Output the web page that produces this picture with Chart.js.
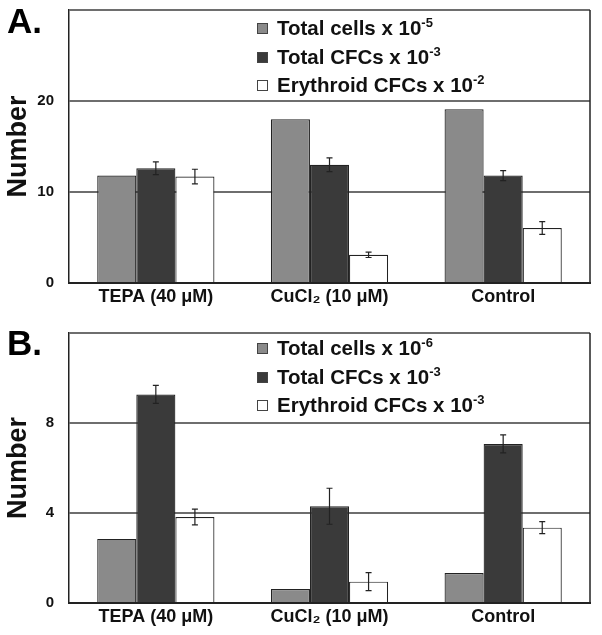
<!DOCTYPE html>
<html>
<head>
<meta charset="utf-8">
<script src="https://cdn.jsdelivr.net/npm/chart.js@4.4.1/dist/chart.umd.min.js"></script>
<style>
  body { margin: 0; background: #fff; width: 602px; height: 635px; position: relative; overflow: hidden; font-family: "Liberation Sans", Arial, sans-serif; }
  .panel { position: absolute; left: 0; }
  .legend { position: absolute; left: 257px; font-weight: bold; font-size: 20.5px; color: #111; }
  .legend div { white-space: nowrap; height: 28.5px; line-height: 28.5px; }
  .legend .sw { display: inline-block; width: 9px; height: 9px; border: 1px solid #444; margin-right: 9px; vertical-align: 1px; }
  .legend sup { font-size: 13px; line-height: 0; vertical-align: 0; position: relative; top: -8px; }
</style>
</head>
<body>
<canvas id="chartA" class="panel" style="top:0" width="602" height="317"></canvas>
<canvas id="chartB" class="panel" style="top:317px" width="602" height="318"></canvas>
<div id="legendA" class="legend" style="top:14px"></div>
<div id="legendB" class="legend" style="top:334px"></div>
<script>
const categories = ['TEPA (40 μM)', 'CuCl₂ (10 μM)', 'Control'];
const seriesNames = ['Total cells x 10', 'Total CFCs x 10', 'Erythroid CFCs x 10'];
const seriesColors = ['#8a8a8a', '#3a3a3a', '#ffffff'];

// panel A
const exponentsA = ['-5', '-3', '-2'];
const totalCellsA = [11.8, 18.0, 19.1];
const totalCfcsA = [12.6, 13.0, 11.8];
const totalCfcsErrA = [0.7, 0.75, 0.55];
const erythroidA = [11.7, 3.1, 6.05];
const erythroidErrA = [0.8, 0.3, 0.7];
const yTicksA = [0, 10, 20];
const yMaxA = 30;

// panel B
const exponentsB = ['-6', '-3', '-3'];
const totalCellsB = [2.85, 0.62, 1.33];
const totalCfcsB = [9.27, 4.3, 7.07];
const totalCfcsErrB = [0.4, 0.8, 0.4];
const erythroidB = [3.82, 0.95, 3.35];
const erythroidErrB = [0.35, 0.4, 0.27];
const yTicksB = [0, 4, 8];
const yMaxB = 12;

const errorBars = {
    id: 'errorBars',
    afterDatasetsDraw(chart) {
        const ctx = chart.ctx;
        const y = chart.scales.y;
        chart.data.datasets.forEach((ds, di) => {
            if (!ds.errors) return;
            chart.getDatasetMeta(di).data.forEach((bar, i) => {
                const top = y.getPixelForValue(ds.data[i] + ds.errors[i]);
                const bot = y.getPixelForValue(ds.data[i] - ds.errors[i]);
                ctx.save();
                ctx.strokeStyle = '#222';
                ctx.lineWidth = 1.2;
                ctx.beginPath();
                ctx.moveTo(bar.x, top); ctx.lineTo(bar.x, bot);
                ctx.moveTo(bar.x - 3, top); ctx.lineTo(bar.x + 3, top);
                ctx.moveTo(bar.x - 3, bot); ctx.lineTo(bar.x + 3, bot);
                ctx.stroke();
                ctx.restore();
            });
        });
    }
};

const frameAndLabel = {
    id: 'frameAndLabel',
    afterDraw(chart, args, opts) {
        const ctx = chart.ctx;
        const a = chart.chartArea;
        ctx.save();
        ctx.strokeStyle = '#222';
        ctx.lineWidth = 1.5;
        ctx.beginPath();
        ctx.moveTo(a.right, a.top);
        ctx.lineTo(a.right, a.bottom);
        ctx.stroke();
        ctx.fillStyle = '#000';
        ctx.font = 'bold 35px "Liberation Sans", Arial, sans-serif';
        ctx.textBaseline = 'alphabetic';
        ctx.fillText(opts.text, 7, opts.baseline);
        ctx.restore();
    }
};

function makeChart(id, label, labelBaseline, padTop, xHeight, series, errs, ticks, yMax, stepSize) {
    const datasets = series.map((data, i) => ({
        label: seriesNames[i],
        data: data,
        errors: errs[i],
        backgroundColor: seriesColors[i],
        borderColor: '#222',
        borderWidth: 1.2,
        barPercentage: 1.0,
        categoryPercentage: 0.675
    }));
    return new Chart(document.getElementById(id), {
        type: 'bar',
        data: { labels: categories, datasets: datasets },
        options: {
            responsive: false,
            animation: false,
            layout: { padding: { top: padTop, right: 12, left: 0, bottom: 0 } },
            plugins: {
                legend: { display: false },
                tooltip: { enabled: false },
                frameAndLabel: { text: label, baseline: labelBaseline }
            },
            scales: {
                x: {
                    grid: { display: false, drawTicks: false },
                    border: { color: '#222', width: 2 },
                    ticks: { color: '#111', padding: 3, font: { family: '"Liberation Sans", Arial', size: 18, weight: 'bold' } },
                    afterFit: (s) => { s.height = xHeight; }
                },
                y: {
                    min: 0,
                    max: yMax,
                    grid: { color: '#6e6e6e', lineWidth: 2, drawTicks: true, tickLength: 15, tickColor: 'rgba(0,0,0,0)' },
                    border: { color: '#222', width: 1.5 },
                    ticks: {
                        stepSize: stepSize,
                        padding: 0,
                        color: '#111',
                        font: { family: '"Liberation Sans", Arial', size: 15, weight: 'bold' },
                        callback: (v) => ticks.includes(v) ? String(v) : ''
                    },
                    title: {
                        display: true,
                        text: 'Number',
                        color: '#111',
                        padding: { top: 2, bottom: 0 },
                        font: { family: '"Liberation Sans", Arial', size: 27, weight: 'bold' }
                    },
                    afterFit: (s) => { s.width = 69; }
                }
            }
        },
        plugins: [errorBars, frameAndLabel]
    });
}

function buildLegend(id, exps) {
    const el = document.getElementById(id);
    el.innerHTML = seriesNames.map((n, i) =>
        '<div><span class="sw" style="background:' + seriesColors[i] + '"></span>' + n + '<sup>' + exps[i] + '</sup></div>'
    ).join('');
}

makeChart('chartA', 'A.', 33, 10, 34,
    [totalCellsA, totalCfcsA, erythroidA], [null, totalCfcsErrA, erythroidErrA], yTicksA, yMaxA, 10);
makeChart('chartB', 'B.', 38, 16, 32,
    [totalCellsB, totalCfcsB, erythroidB], [null, totalCfcsErrB, erythroidErrB], yTicksB, yMaxB, 4);
buildLegend('legendA', exponentsA);
buildLegend('legendB', exponentsB);
</script>
</body>
</html>
